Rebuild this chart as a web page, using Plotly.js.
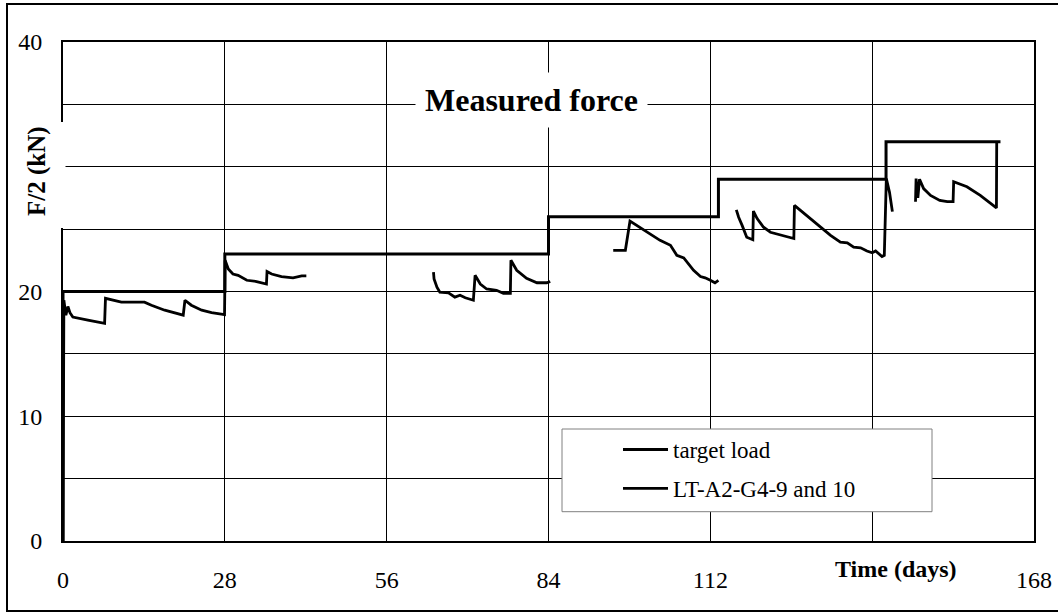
<!DOCTYPE html>
<html>
<head>
<meta charset="utf-8">
<script src="https://cdn.plot.ly/plotly-3.0.1.min.js"></script>
<style>html,body{margin:0;padding:0;background:#fff;}#chart{width:1058px;height:612px;}</style>
</head>
<body>
<div id="chart"></div>
<script>
// Target load (step function)
const targetDays = [0, 0, 28, 28, 84, 84, 113.4, 113.4, 142.4, 142.4, 162.2];
const targetLoad = [0, 20, 20, 23, 23, 26, 26, 29, 29, 32, 32];

// Measured force LT-A2-G4-9 and 10 (null = gap in record)
const measDays = [
  0, 0.15, 0.5, 0.85, 1.2, 1.7, 4.3, 7.2, 7.35, 10.1, 14.1, 15.3, 17.6, 20.8, 21.1, 22.2, 24.0, 25.7, 27.95,
  28.05, 28.6, 29.0, 29.4, 30.3, 31.8, 33.5, 35.2, 35.3, 36.1, 37.8, 39.8, 41.3, 42.1,
  null,
  64.1, 64.2, 64.7, 65.2, 66.7, 67.8, 68.7, 69.6, 71.0, 71.3, 72.2, 73.3, 75.0, 76.2, 77.4, 77.5, 78.5, 80.2, 82.0, 83.7, 84.3,
  null,
  95.2, 97.3, 98.1, 99.3, 101.0, 103.3, 105.1, 106.2, 107.4, 109.1, 110.3, 111.1, 112.0, 112.8, 113.4,
  null,
  116.5, 116.9, 117.5, 118.3, 119.35, 119.45, 120.1, 121.2, 122.4, 124.4, 126.45, 126.55, 127.6, 129.3, 131.0, 132.8, 134.5, 135.7, 136.8, 138.0, 139.1, 140.0, 140.6, 141.7, 142.1, 142.45, 143.0, 143.5,
  null,
  147.5, 147.6, 147.9, 148.2, 148.9, 150.1, 151.7, 153.0, 154.0, 154.1, 156.4, 158.7, 161.5, 161.55
];
const measForce = [
  0, 19.3, 18.1, 18.8, 18.3, 17.95, 17.7, 17.45, 19.45, 19.15, 19.15, 18.9, 18.5, 18.1, 19.3, 18.9, 18.5, 18.3, 18.15,
  22.5, 21.8, 21.6, 21.4, 21.3, 20.9, 20.8, 20.6, 21.6, 21.4, 21.2, 21.1, 21.25, 21.25,
  null,
  21.55, 21.0, 20.35, 19.95, 19.9, 19.55, 19.7, 19.5, 19.3, 21.3, 20.6, 20.2, 20.1, 19.85, 19.85, 22.5, 21.7, 21.05, 20.7, 20.7, 20.8,
  null,
  23.3, 23.3, 25.65, 25.3, 24.75, 24.1, 23.7, 22.9, 22.7, 21.7, 21.2, 21.1, 20.9, 20.7, 20.9,
  null,
  26.55, 25.95, 25.3, 24.35, 24.15, 26.45, 25.85, 25.15, 24.75, 24.5, 24.25, 26.9, 26.5, 25.85, 25.15, 24.5, 23.95, 23.9, 23.55, 23.5, 23.25, 23.1, 23.25, 22.8, 22.9, 29.05, 27.95, 26.4,
  null,
  27.2, 29.05, 27.5, 29.0, 28.25, 27.7, 27.3, 27.2, 27.2, 28.8, 28.4, 27.7, 26.7, 32.0
];

const xTickVals = [0, 28, 56, 84, 112, 140, 168];
const xTickText = ['0', '28', '56', '84', '112', '', '168'];
const yTickVals = [0, 5, 10, 15, 20, 25, 30, 35, 40];
const yTickText = ['0', '', '10', '', '20', '', '', '', '40'];

const FONT = 'Liberation Serif, Times New Roman, serif';

const W = 1058, H = 612;
const M = {l: 63, r: 24, t: 42, b: 71};
const PW = W - M.l - M.r, PH = H - M.t - M.b;
const px2x = p => (p - M.l) / PW;
const py2y = p => (H - M.b - p) / PH;

const traces = [
  {
    x: targetDays, y: targetLoad, type: 'scatter', mode: 'lines', name: 'target load',
    line: {color: '#000', width: 3}, legendgroup: 'a'
  },
  {
    x: measDays, y: measForce, type: 'scatter', mode: 'lines', name: 'LT-A2-G4-9 and 10',
    line: {color: '#000', width: 2.8}, connectgaps: false, legendgroup: 'b'
  }
];

const layout = {
  width: W, height: H,
  margin: M,
  paper_bgcolor: '#fff', plot_bgcolor: '#fff',
  font: {family: FONT, color: '#000'},
  showlegend: true,
  legend: {
    x: px2x(618), y: py2y(428), xanchor: 'left', yanchor: 'top',
    bgcolor: 'rgba(0,0,0,0)', borderwidth: 0,
    font: {family: FONT, size: 23, color: '#000'},
    traceorder: 'grouped', tracegroupgap: 6, itemwidth: 45
  },
  xaxis: {
    range: [0, 168], tickvals: xTickVals, ticktext: xTickText,
    showgrid: true, gridcolor: '#000', gridwidth: 1,
    showline: true, linecolor: '#000', linewidth: 2, mirror: true,
    zeroline: false, ticks: '', ticklabelstandoff: 16,
    tickfont: {family: FONT, size: 24, color: '#000'}, fixedrange: true
  },
  yaxis: {
    range: [0, 40], tickvals: yTickVals, ticktext: yTickText,
    showgrid: true, gridcolor: '#000', gridwidth: 1,
    showline: true, linecolor: '#000', linewidth: 2, mirror: true,
    zeroline: false, ticks: '', ticklabelstandoff: 14,
    tickfont: {family: FONT, size: 24, color: '#000'}, fixedrange: true
  },
  shapes: [
    {type: 'rect', xref: 'paper', yref: 'paper', x0: px2x(28), x1: px2x(65.5), y0: py2y(228), y1: py2y(122),
     fillcolor: '#fff', line: {width: 0}, layer: 'above'},
    {type: 'rect', xref: 'paper', yref: 'paper', x0: px2x(562), x1: px2x(932), y0: py2y(511.7), y1: py2y(429),
     fillcolor: '#fff', line: {color: '#808080', width: 1}, layer: 'above'},
    {type: 'rect', xref: 'paper', yref: 'paper', x0: px2x(7), x1: px2x(1090), y0: py2y(611), y1: py2y(4),
     fillcolor: 'rgba(0,0,0,0)', line: {color: '#000', width: 2}, layer: 'above'}
  ],
  annotations: [
    {text: '<b>Measured force</b>', xref: 'paper', yref: 'paper', x: px2x(531.5), y: py2y(100.5),
     xanchor: 'center', yanchor: 'middle', showarrow: false, bgcolor: '#fff', borderpad: 9,
     font: {family: FONT, size: 32, color: '#000'}},
    {text: '<b>Time (days)</b>', xref: 'paper', yref: 'paper', x: px2x(895.8), y: py2y(569),
     xanchor: 'center', yanchor: 'middle', showarrow: false,
     font: {family: FONT, size: 24, color: '#000'}},
    {text: '<b>F/2 (kN)</b>', xref: 'paper', yref: 'paper', x: px2x(37), y: py2y(171),
     xanchor: 'center', yanchor: 'middle', showarrow: false, textangle: -90, bgcolor: '#fff',
     font: {family: FONT, size: 25, color: '#000'}}
  ]
};

Plotly.newPlot('chart', traces, layout, {staticPlot: true, displayModeBar: false});
</script>
</body>
</html>
